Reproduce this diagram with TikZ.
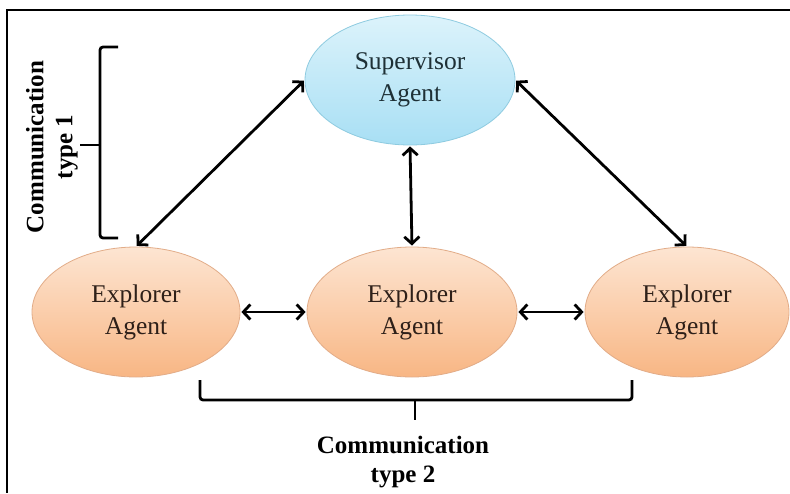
\documentclass[tikz,border=0pt]{standalone}
\usepackage{fontspec}
\setmainfont{Liberation Serif}
\usetikzlibrary{shapes.geometric,arrows.meta}
\definecolor{supT}{HTML}{DCF3FB}
\definecolor{supBo}{HTML}{A8DFF4}
\definecolor{supB}{HTML}{8ECBE0}
\definecolor{expT}{HTML}{FDE5D2}
\definecolor{expBo}{HTML}{F8B684}
\definecolor{expB}{HTML}{E2AC88}
\definecolor{supText}{HTML}{1E3036}
\definecolor{expText}{HTML}{2E2019}
\begin{document}
\begin{tikzpicture}[x=1pt,y=-1pt,
  agent/.style={ellipse, draw, line width=0.8pt, inner sep=0pt, align=center,
    minimum height=130pt, font=\fontsize{25.5}{32}\selectfont},
  supagent/.style={agent, draw=supB, top color=supT, bottom color=supBo, text=supText},
  expagent/.style={agent, draw=expB, top color=expT, bottom color=expBo, text=expText},
  conn/.style={line width=2.8pt, {Straight Barb[length=7pt,width=15pt]}-{Straight Barb[length=7pt,width=15pt]}, shorten <=1pt, shorten >=1pt},
  bracket/.style={line width=2.8pt, rounded corners=3pt},
  label/.style={font=\bfseries\fontsize{25}{29}\selectfont, align=center, text=black}
]
\useasboundingbox (0,0) rectangle (790,493);
\fill[white] (0,0) rectangle (790,493);
% frame
\draw[line width=1.4pt] (790,10) -- (7,10) -- (7,493);

% nodes
\node[supagent, minimum width=210pt] (sup) at (410,80) {Supervisor\\Agent};
\node[expagent, minimum width=208pt] (e1) at (136,312) {Explorer\\Agent};
\node[expagent, minimum width=210pt] (e2) at (412,312) {Explorer\\Agent};
\node[expagent, minimum width=204pt] (e3) at (687,312) {Explorer\\Agent};

% connectors
\draw[conn] (e1.north) -- (sup.west);
\draw[conn] (sup.east) -- (e3.north);
\draw[conn] (sup.south) -- (e2.north);
\draw[conn] (e1.east) -- (e2.west);
\draw[conn] (e2.east) -- (e3.west);

% bracket 1
\draw[bracket] (118,47) -- (100,47) -- (100,238) -- (118,238);
\draw[bracket] (100,145) -- (80,145);
\node[label, rotate=90] (l1) at (52,147) {Communication\\type 1};

% bracket 2
\draw[bracket] (200,380) -- (200,400) -- (632,400) -- (632,380);
\draw[bracket] (415,400) -- (415,420);
\node[label] (l2) at (403,462) {Communication\\type 2};
\end{tikzpicture}
\end{document}
